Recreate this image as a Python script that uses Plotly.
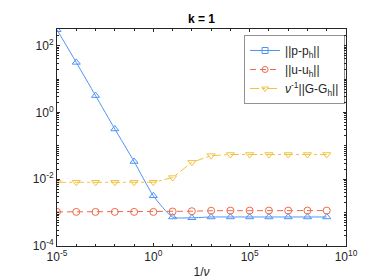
import plotly.graph_objects as go

nu_inv = [1e-5, 1e-4, 1e-3, 1e-2, 1e-1, 1e0, 1e1, 1e2, 1e3, 1e4, 1e5, 1e6, 1e7, 1e8, 1e9]
err_p = [300, 31.6, 3.2, 0.32, 0.034, 3.2e-3, 7.4e-4, 7.0e-4, 7.4e-4, 7.4e-4, 7.4e-4, 7.4e-4, 7.4e-4, 7.4e-4, 7.4e-4]
err_u = [1.05e-3, 1.05e-3, 1.05e-3, 1.05e-3, 1.05e-3, 1.05e-3, 1.08e-3, 1.1e-3, 1.14e-3, 1.15e-3, 1.15e-3, 1.15e-3, 1.15e-3, 1.15e-3, 1.15e-3]
err_G = [8.1e-3, 8.1e-3, 8.1e-3, 8.1e-3, 8.1e-3, 8.1e-3, 0.0112, 0.032, 0.051, 0.055, 0.055, 0.055, 0.055, 0.055, 0.055]

names = ["||p-p<sub>h</sub>||", "||u-u<sub>h</sub>||", "<i>ν</i><sup>-1</sup>||G-G<sub>h</sub>||"]
blue = "#4d94f5"
red = "#ee6a4a"
yellow = "#f2c240"
FONT = "Liberation Sans, Arial"

fig = go.Figure()
fig.add_trace(go.Scatter(x=nu_inv, y=err_p, mode="lines+markers", line=dict(color=blue, width=1, shape="spline", smoothing=0.6),
                         marker=dict(symbol="triangle-up-open", size=7, color=blue), showlegend=False))
fig.add_trace(go.Scatter(x=nu_inv, y=err_u, mode="lines+markers", line=dict(color=red, width=1, dash="6px,4px"),
                         marker=dict(symbol="circle-open", size=7, color=red), showlegend=False))
fig.add_trace(go.Scatter(x=nu_inv, y=err_G, mode="lines+markers", line=dict(color=yellow, width=1, dash="dashdot"),
                         marker=dict(symbol="triangle-down-open", size=7, color=yellow), showlegend=False))
fig.add_trace(go.Scatter(x=[None], y=[None], mode="lines+markers", name=names[0], line=dict(color=blue, width=1),
                         marker=dict(symbol="square-open", size=6, color=blue)))
fig.add_trace(go.Scatter(x=[None], y=[None], mode="lines+markers", name=names[1], line=dict(color=red, width=1, dash="6px,4px"),
                         marker=dict(symbol="circle-open", size=6, color=red)))
fig.add_trace(go.Scatter(x=[None], y=[None], mode="lines+markers", name=names[2], line=dict(color=yellow, width=1, dash="dashdot"),
                         marker=dict(symbol="triangle-down-open", size=6, color=yellow)))

axis_common = dict(showline=True, linecolor="#262626", linewidth=1, mirror="ticks", ticks="inside",
                   ticklen=3, tickcolor="#262626", showgrid=False, zeroline=False,
                   tickfont=dict(family=FONT, size=12, color="#262626"))

fig.update_xaxes(type="log", range=[-5, 10], tickvals=[1e-5, 1e0, 1e5, 1e10],
                 ticktext=["10<sup>-5</sup>", "10<sup>0</sup>", "10<sup>5</sup>", "10<sup>10</sup>"],
                 title=dict(text="1/<i>ν</i>", font=dict(family=FONT, size=12, color="#262626"), standoff=4),
                 minor=dict(tickvals=[10.0**k for k in range(-4, 10) if k % 5 != 0], ticks="inside", ticklen=2, tickcolor="#262626"),
                 **axis_common)
fig.update_yaxes(type="log", range=[-4, 2.5], tickvals=[1e-4, 1e-2, 1e0, 1e2],
                 ticktext=["10<sup>-4</sup>", "10<sup>-2</sup>", "10<sup>0</sup>", "10<sup>2</sup>"],
                 minor=dict(tickvals=[m * 10.0**k for k in range(-4, 3) for m in range(1, 10) if not (m == 1 and k % 2 == 0)],
                            ticks="inside", ticklen=2, tickcolor="#262626"),
                 **axis_common)

fig.update_layout(
    width=374, height=280,
    margin=dict(l=49, r=36, t=21, b=42),
    paper_bgcolor="white", plot_bgcolor="white",
    title=dict(text="<b>k = 1</b>", x=0.5, xanchor="center", xref="paper", y=0.975, yanchor="top",
               font=dict(family=FONT, size=12, color="black")),
    legend=dict(x=0.995, y=0.97, xanchor="right", yanchor="top", bgcolor="white", bordercolor="#262626", borderwidth=0.5,
                font=dict(family=FONT, size=12, color="#262626"), tracegroupgap=0, itemwidth=30),
    showlegend=True,
)

fig.write_html("out.html")
